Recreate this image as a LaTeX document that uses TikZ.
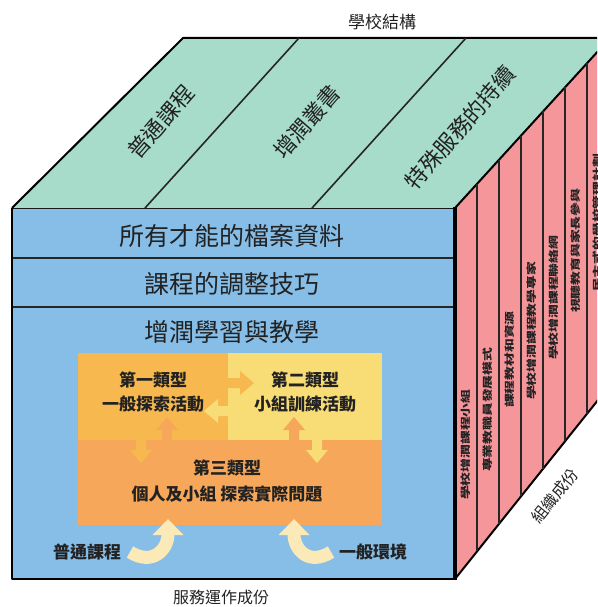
\documentclass[tikz,border=0pt]{standalone}
\usepackage{fontspec}
\usepackage{graphicx}
\setmainfont{Noto Sans CJK TC}
\usetikzlibrary{arrows.meta}
\definecolor{blueface}{HTML}{87BEE8}
\definecolor{tealface}{HTML}{A7DCCB}
\definecolor{pinkface}{HTML}{F4969A}
\definecolor{golden}{HTML}{F7B94F}
\definecolor{yellowbox}{HTML}{F8DC76}
\definecolor{orangebox}{HTML}{F6A75A}
\definecolor{cream}{HTML}{FBE9B7}
\definecolor{ink}{HTML}{222222}
\tikzset{
  edge/.style={draw=black,line width=2pt,line join=round},
  divline/.style={draw=black!85,line width=1.6pt},
  bandtext/.style={text=ink,font=\fontsize{25}{28}\selectfont,inner sep=0pt},
  toptext/.style={text=ink,font=\fontsize{22}{24}\selectfont,inner sep=0pt,rotate=49},
  sidetext/.style={text=ink,font=\fontsize{10}{10}\selectfont\bfseries,inner sep=0pt,rotate=90,anchor=west},
  boxtext/.style={text=ink,font=\fontsize{17}{19}\selectfont\bfseries,inner sep=0pt},
  labeltext/.style={text=ink,font=\fontsize{16}{18}\selectfont,inner sep=0pt},
  bandarrow/.style={draw=cream,line width=13pt,-{Triangle[width=30pt,length=16pt]}}
}
\begin{document}
\begin{tikzpicture}[x=1pt,y=-1pt]
\useasboundingbox (0,0) rectangle (597,607);
\clip (0,0) rectangle (597,607);
% ---------- front face ----------
\fill[blueface] (12,208) rectangle (455,579);
% inner puzzle
\fill[orangebox] (78,440) rectangle (382,525);
\fill[golden] (78,353) rectangle (228,440);
\fill[yellowbox] (228,353) rectangle (382,440);
\fill[golden] (226,378) -- (240,378) -- (240,371) -- (254,383) -- (240,395) -- (240,388) -- (226,388) -- cycle;
\fill[yellowbox] (230,406) -- (218,406) -- (218,399) -- (204,411) -- (218,423) -- (218,416) -- (230,416) -- cycle;
\fill[orangebox] (162,442) -- (162,430) -- (156,430) -- (167,417) -- (178,430) -- (172,430) -- (172,442) -- cycle;
\fill[golden] (136,438) -- (136,450) -- (130,450) -- (141,463) -- (152,450) -- (146,450) -- (146,438) -- cycle;
\fill[orangebox] (289,442) -- (289,430) -- (283,430) -- (294,417) -- (305,430) -- (299,430) -- (299,442) -- cycle;
\fill[yellowbox] (312,438) -- (312,450) -- (306,450) -- (317,463) -- (328,450) -- (322,450) -- (322,438) -- cycle;
% curved input arrows
\coordinate (ltail) at (130,552);
\coordinate (lhead) at (168,519);
\coordinate (rtail) at (331,552);
\coordinate (rhead) at (294,519);
\draw[bandarrow] (ltail) .. controls (152,566) and (168,550) .. (lhead);
\draw[bandarrow] (rtail) .. controls (309,566) and (294,550) .. (rhead);
% band lines
\draw[divline] (12,258) -- (455,258);
\draw[divline] (12,307) -- (455,307);
% texts
\node[bandtext] (b1) at (232,236) {所有才能的檔案資料};
\node[bandtext] (b2) at (232,284) {課程的調整技巧};
\node[bandtext] (b3) at (232,332) {增潤學習與教學};
\node[boxtext] (t1a) at (153,380) {第一類型};
\node[boxtext] (t1b) at (153,404) {一般探索活動};
\node[boxtext] (t2a) at (305,380) {第二類型};
\node[boxtext] (t2b) at (305,404) {小組訓練活動};
\node[boxtext] (t3a) at (227,468) {第三類型};
\node[boxtext] (t3b) at (227,494) {個人及小組 探索實際問題};
\node[boxtext] (in1) at (87,552) {普通課程};
\node[boxtext] (in2) at (373,552) {一般環境};
% front outline
\draw[edge] (12,208) -- (12,579) -- (455,579);
\draw[edge] (12,208) -- (455,208);
% ---------- top face ----------
\fill[tealface] (12,208) -- (183,38) -- (610,38) -- (455,208) -- cycle;
\draw[edge] (12,208) -- (183,38) -- (610,38);
\draw[divline] (145,208) -- (299,38);
\draw[divline] (312,208) -- (466,38);
\node[toptext] (s1) at (161,122) {普通課程};
\node[toptext] (s2) at (307,122) {增潤叢書};
\node[toptext] (s3) at (460,128) {特殊服務的持續};
% ---------- right face ----------
\fill[pinkface] (455,208) -- (610,38) -- (610,385) -- (455,579) -- cycle;
\draw[edge] (455,208) -- (610,38);
\draw[edge] (455,579) -- (610,385);
\foreach \xx in {477,499,521,543,565,587}{
  \pgfmathsetmacro{\ytop}{208-(\xx-455)*1.0968}
  \pgfmathsetmacro{\ybot}{579-(\xx-455)*1.252}
  \draw[divline] (\xx,\ytop) -- (\xx,\ybot);
}
\draw[draw=black,line width=3.5pt] (455,207) -- (455,580);
\node[sidetext] (r1) at (466,500) {\scalebox{1.38}[1]{學校增潤課程小組}};
\node[sidetext] (r2) at (488,472) {\scalebox{1.38}[1]{專業教職員發展模式}};
\node[sidetext] (r3) at (510,408) {\scalebox{1.38}[1]{課程教材和資源}};
\node[sidetext] (r4) at (532,400) {\scalebox{1.38}[1]{學校增潤課程教學專家}};
\node[sidetext] (r5) at (554,360) {\scalebox{1.38}[1]{學校增潤課程聯絡網}};
\node[sidetext] (r6) at (576,313) {\scalebox{1.38}[1]{視聽教育與家長參與}};
\node[sidetext] (r7) at (598,292) {\scalebox{1.38}[1]{民主式的學校管理計劃}};
% ---------- outer labels ----------
\node[labeltext,font=\fontsize{17}{19}\selectfont] (lt) at (382,22) {學校結構};
\node[labeltext] (lb) at (221,597) {服務運作成份};
\node[labeltext,rotate=51] (lr) at (555,496) {組織成份};
\end{tikzpicture}
\end{document}
